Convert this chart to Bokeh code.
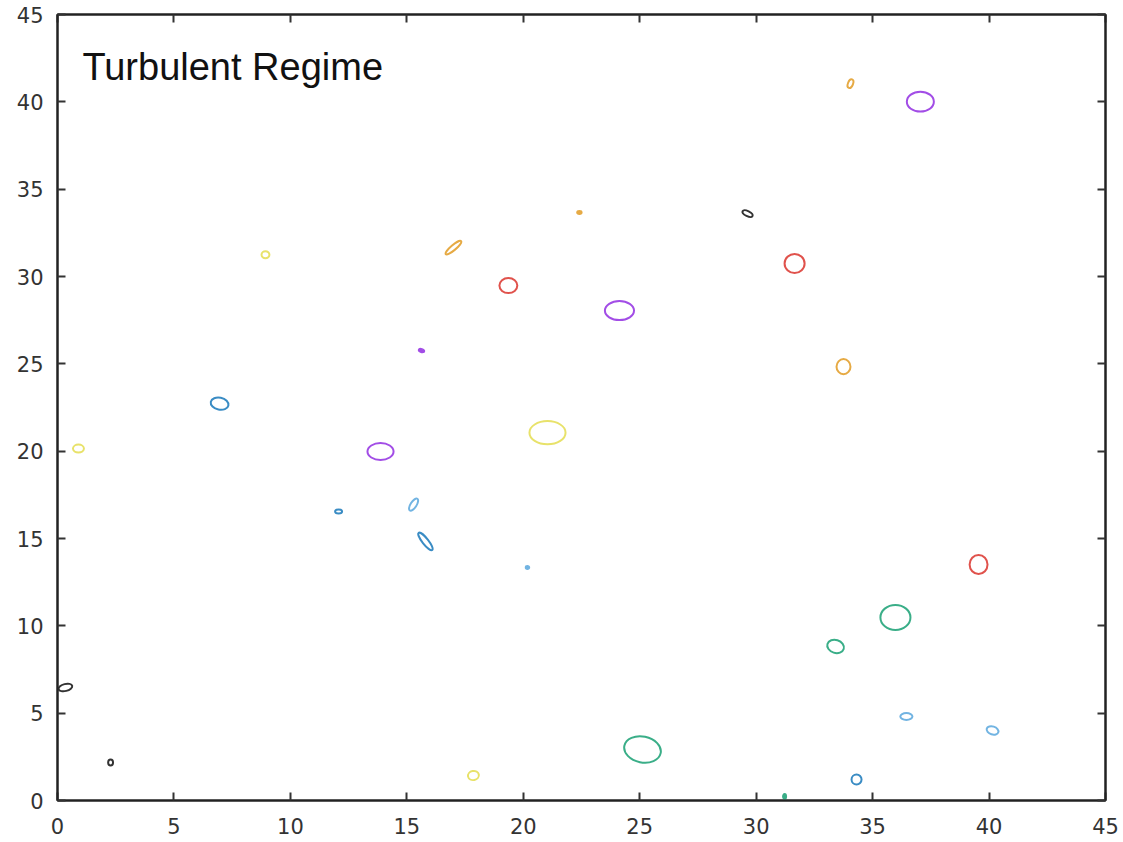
from bokeh.plotting import figure
from bokeh.models import Range1d, LinearAxis, Label, ColumnDataSource, FixedTicker, CustomJSTickFormatter
from bokeh.embed import file_html
from bokeh.resources import INLINE

# Vortex cross-sections: centre, extent (x units / y units), tilt (rad), colour group
cx = [0.90, 0.34, 2.28, 6.96, 8.93, 12.07, 13.87, 15.29, 15.80, 17.00,
      17.86, 19.36, 21.04, 24.13, 25.12, 29.63, 31.65, 33.75, 33.41, 34.05,
      34.31, 35.98, 36.45, 37.05, 39.55, 40.15]
cy = [20.15, 6.47, 2.18, 22.72, 31.25, 16.54, 19.98, 16.94, 14.83, 31.65,
      1.43, 29.48, 21.06, 28.05, 2.92, 33.60, 30.74, 24.84, 8.82, 41.04,
      1.20, 10.48, 4.81, 40.01, 13.51, 4.01]
w = [0.47, 0.60, 0.21, 0.77, 0.34, 0.30, 1.12, 0.60, 0.94, 0.86,
     0.47, 0.77, 1.55, 1.25, 1.59, 0.47, 0.86, 0.60, 0.73, 0.39,
     0.43, 1.29, 0.52, 1.16, 0.77, 0.52]
h = [0.46, 0.40, 0.34, 0.69, 0.40, 0.23, 0.97, 0.34, 0.34, 0.29,
     0.52, 0.86, 1.32, 1.09, 1.49, 0.29, 1.09, 0.86, 0.74, 0.29,
     0.57, 1.43, 0.40, 1.14, 1.09, 0.46]
tilt = [0.0, 0.25, 0.0, -0.2, 0.0, 0.0, 0.0, 1.0, -0.9, 0.7,
        0.2, 0.0, 0.0, 0.0, -0.2, -0.45, 0.0, 0.0, -0.3, 1.2,
        0.0, 0.0, 0.0, 0.0, 0.0, -0.3]
group = ["yellow", "black", "black", "blue", "yellow", "blue", "purple", "lightblue", "blue", "orange",
         "yellow", "red", "yellow", "purple", "green", "black", "red", "orange", "green", "orange",
         "blue", "green", "lightblue", "purple", "red", "lightblue"]

# Tiny cores drawn as filled blobs
dot_x = [15.63, 20.18, 22.41, 31.22]
dot_y = [25.76, 13.34, 33.66, 0.23]
dot_w = [0.26, 0.17, 0.21, 0.15]
dot_h = [0.20, 0.20, 0.20, 0.30]
dot_tilt = [-0.3, 0.0, 0.0, 0.0]
dot_group = ["purple", "lightblue", "orange", "green"]

palette = {
    "yellow": "#E8E26A",
    "black": "#333333",
    "blue": "#3A8CC4",
    "lightblue": "#72B4E2",
    "purple": "#A24DE6",
    "orange": "#E6AA44",
    "red": "#E0524C",
    "green": "#3AAE88",
}

ticks = [0, 5, 10, 15, 20, 25, 30, 35, 40, 45]

p = figure(width=1123, height=842, output_backend="svg", toolbar_location=None,
           x_range=Range1d(0, 45), y_range=Range1d(0, 45),
           min_border_left=57, min_border_right=18, min_border_top=14, min_border_bottom=42,
           x_axis_location=None, y_axis_location=None)
p.xgrid.visible = False
p.ygrid.visible = False
p.outline_line_color = "#222222"
p.outline_line_width = 2
p.background_fill_color = "white"
p.border_fill_color = "white"

src = ColumnDataSource(dict(x=cx, y=cy, w=w, h=h, a=tilt,
                            c=[palette[g] for g in group]))
p.ellipse(x="x", y="y", width="w", height="h", angle="a", source=src,
          fill_color=None, line_color="c", line_width=2)

dots = ColumnDataSource(dict(x=dot_x, y=dot_y, w=dot_w, h=dot_h, a=dot_tilt,
                             c=[palette[g] for g in dot_group]))
p.ellipse(x="x", y="y", width="w", height="h", angle="a", source=dots,
          fill_color="c", line_color="c", line_width=1.5)


def style(axis, labelled, size="20px", standoff=10):
    axis.ticker = FixedTicker(ticks=ticks)
    axis.axis_line_color = "#222222"
    axis.axis_line_width = 2
    axis.major_tick_in = 8
    axis.major_tick_out = 0
    axis.major_tick_line_color = "#333333"
    axis.major_tick_line_width = 2
    axis.minor_tick_line_color = None
    if labelled:
        axis.major_label_text_font = "DejaVu Sans"
        axis.major_label_text_font_size = size
        axis.major_label_text_color = "#333333"
        axis.major_label_standoff = standoff
    else:
        axis.formatter = CustomJSTickFormatter(code="return ''")
        axis.major_label_text_font_size = "1px"
        axis.major_label_standoff = 0


bottom = LinearAxis()
style(bottom, True, "21px", 17)
p.add_layout(bottom, "below")
top = LinearAxis()
style(top, False)
p.add_layout(top, "above")
left = LinearAxis()
style(left, True, "21px", 14)
p.add_layout(left, "left")
right = LinearAxis()
style(right, False)
p.add_layout(right, "right")

p.add_layout(Label(x=1.07, y=42.0, text="Turbulent Regime", text_baseline="alphabetic",
                   text_font="Liberation Sans", text_font_size="38px", text_color="#111111"))

open("out.html", "w").write(file_html(p, INLINE))
